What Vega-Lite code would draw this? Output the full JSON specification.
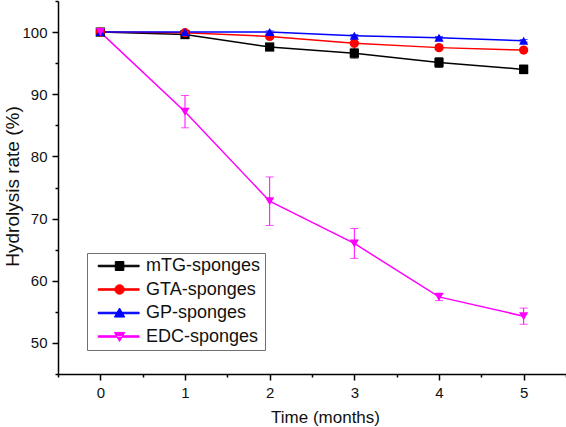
{
  "$schema": "https://vega.github.io/schema/vega-lite/v6.json",
  "width": 508,
  "height": 373,
  "autosize": "none",
  "padding": {"left": 58, "top": 1, "right": 0, "bottom": 53},
  "background": "white",
  "config": {
    "view": {"stroke": null},
    "font": "Liberation Sans",
    "axis": {
      "domainColor": "#000000",
      "domainWidth": 1.5,
      "tickColor": "#000000",
      "tickWidth": 1.5,
      "grid": false,
      "labelFont": "Liberation Sans",
      "labelFontSize": 15,
      "labelColor": "#111111",
      "titleFont": "Liberation Sans",
      "titleFontWeight": "normal",
      "titleColor": "#111111",
      "labelFlush": false,
      "labelOverlap": false
    }
  },
  "data": {
    "values": [
      {"series": "mTG-sponges", "time": 0, "value": 100.0, "err": 0.0},
      {"series": "mTG-sponges", "time": 1, "value": 99.6, "err": 0.3},
      {"series": "mTG-sponges", "time": 2, "value": 97.6, "err": 0.4},
      {"series": "mTG-sponges", "time": 3, "value": 96.6, "err": 0.8},
      {"series": "mTG-sponges", "time": 4, "value": 95.1, "err": 0.8},
      {"series": "mTG-sponges", "time": 5, "value": 94.0, "err": 0.7},
      {"series": "GTA-sponges", "time": 0, "value": 100.0, "err": 0.0},
      {"series": "GTA-sponges", "time": 1, "value": 99.9, "err": 0.2},
      {"series": "GTA-sponges", "time": 2, "value": 99.3, "err": 0.3},
      {"series": "GTA-sponges", "time": 3, "value": 98.2, "err": 0.3},
      {"series": "GTA-sponges", "time": 4, "value": 97.5, "err": 0.2},
      {"series": "GTA-sponges", "time": 5, "value": 97.1, "err": 0.2},
      {"series": "GP-sponges", "time": 0, "value": 100.0, "err": 0.0},
      {"series": "GP-sponges", "time": 1, "value": 100.0, "err": 0.1},
      {"series": "GP-sponges", "time": 2, "value": 100.0, "err": 0.2},
      {"series": "GP-sponges", "time": 3, "value": 99.4, "err": 0.2},
      {"series": "GP-sponges", "time": 4, "value": 99.1, "err": 0.2},
      {"series": "GP-sponges", "time": 5, "value": 98.6, "err": 0.2},
      {"series": "EDC-sponges", "time": 0, "value": 100.0, "err": 0.0},
      {"series": "EDC-sponges", "time": 1, "value": 87.2, "err": 2.6},
      {"series": "EDC-sponges", "time": 2, "value": 72.8, "err": 3.9},
      {"series": "EDC-sponges", "time": 3, "value": 66.0, "err": 2.4},
      {"series": "EDC-sponges", "time": 4, "value": 57.4, "err": 0.6},
      {"series": "EDC-sponges", "time": 5, "value": 54.3, "err": 1.3}
    ]
  },
  "encoding": {
    "x": {
      "field": "time",
      "type": "quantitative",
      "scale": {"domain": [-0.5, 5.5], "nice": false, "zero": false},
      "axis": {
        "title": "Time (months)",
        "titleFontSize": 17,
        "values": [-0.5, 0, 0.5, 1, 1.5, 2, 2.5, 3, 3.5, 4, 4.5, 5, 5.5],
        "labelExpr": "datum.value % 1 === 0 ? format(datum.value, 'd') : ''",
        "tickSize": {"condition": {"test": "datum.value % 1 !== 0", "value": 3}, "value": 6},
        "labelPadding": 5,
        "titlePadding": 9,
        "titleX": 267
      }
    },
    "y": {
      "field": "value",
      "type": "quantitative",
      "scale": {"domain": [45, 105], "nice": false, "zero": false},
      "axis": {
        "title": "Hydrolysis rate (%)",
        "titleFontSize": 19,
        "values": [45, 50, 55, 60, 65, 70, 75, 80, 85, 90, 95, 100, 105],
        "labelExpr": "datum.value % 10 === 0 ? format(datum.value, 'd') : ''",
        "tickSize": {"condition": {"test": "datum.value % 10 !== 0", "value": 3}, "value": 6},
        "labelPadding": 5,
        "titleX": -36,
        "titleY": 185
      }
    },
    "color": {
      "field": "series",
      "type": "nominal",
      "sort": ["mTG-sponges", "GTA-sponges", "GP-sponges", "EDC-sponges"],
      "scale": {
        "domain": ["mTG-sponges", "GTA-sponges", "GP-sponges", "EDC-sponges"],
        "range": ["#000000", "#ff0000", "#0000ff", "#ff00ff"]
      },
      "legend": {
        "title": null,
        "orient": "none",
        "legendX": 29,
        "legendY": 252,
        "padding": 4,
        "strokeColor": "#707070",
        "fillColor": "white",
        "labelFont": "Liberation Sans",
        "labelFontSize": 18,
        "labelColor": "#111111",
        "labelOffset": 37,
        "rowPadding": 5.5,
        "symbolSize": 81,
        "symbolOpacity": 1,
        "encode": {
          "symbols": {
            "update": {
              "shape": {"signal": "datum.value === 'mTG-sponges' ? 'M-0.4,-0.17H8.7V0.17H-0.4ZM3.4,-1H5.3V1H3.4Z' : datum.value === 'GTA-sponges' ? 'M-0.4,-0.17H8.7V0.17H-0.4ZM5.4,0A1.05,1.05,0,1,1,3.3,0A1.05,1.05,0,1,1,5.4,0Z' : datum.value === 'GP-sponges' ? 'M-0.4,-0.17H8.7V0.17H-0.4ZM4.35,-1.1L5.5,0.9H3.2Z' : 'M-0.4,-0.17H8.7V0.17H-0.4ZM4.35,1.1L5.5,-0.9H3.2Z'"},
              "fill": {"scale": "color", "field": "value"},
              "stroke": {"scale": "color", "field": "value"},
              "strokeWidth": {"value": 1}
            }
          }
        }
      }
    }
  },
  "layer": [
    {
      "mark": {"type": "line", "strokeWidth": 1.5}
    },
    {
      "mark": {"type": "errorbar", "ticks": {"size": 8, "thickness": 1}, "thickness": 1},
      "encoding": {
        "yError": {"field": "err"}
      }
    },
    {
      "mark": {"type": "point", "filled": true, "opacity": 1, "size": 85},
      "encoding": {
        "shape": {
          "condition": [
            {"test": "datum.series === 'mTG-sponges'", "value": "square"},
            {"test": "datum.series === 'GTA-sponges'", "value": "circle"},
            {"test": "datum.series === 'GP-sponges'", "value": "triangle-up"}
          ],
          "value": "triangle-down"
        }
      }
    }
  ]
}
